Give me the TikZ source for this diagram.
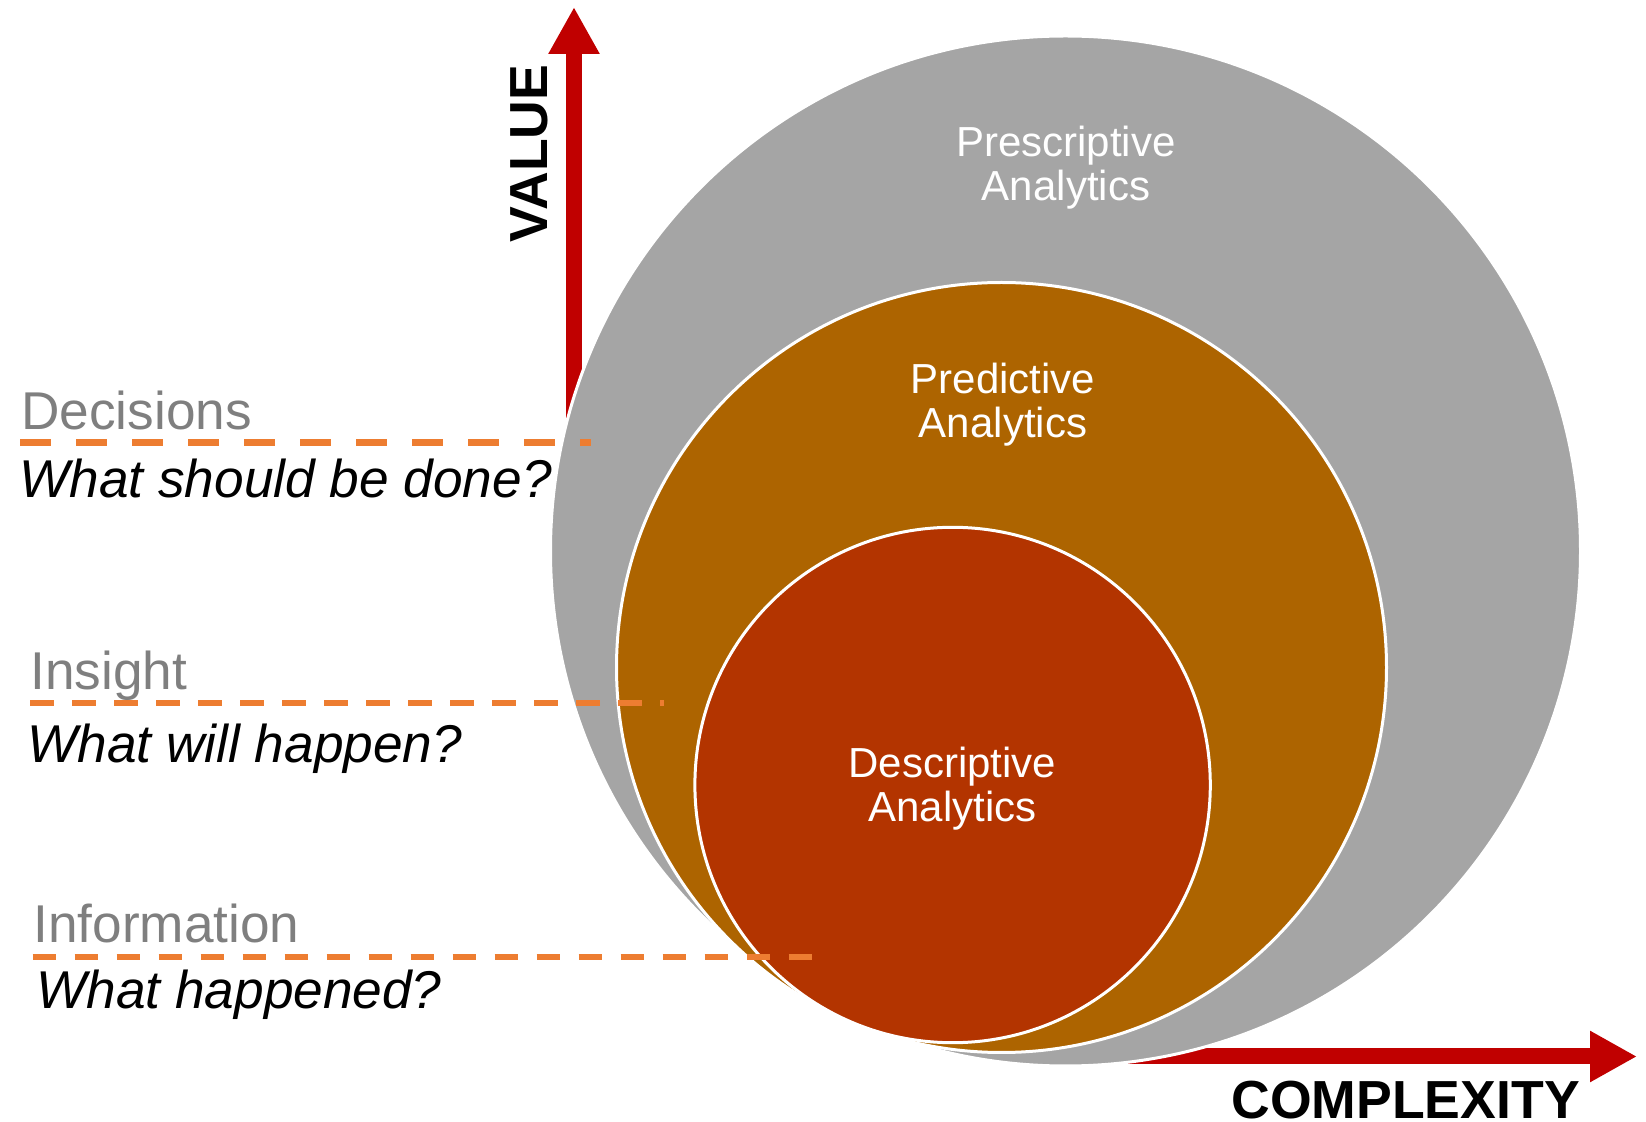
\documentclass[tikz,border=0pt]{standalone}
\usepackage{fontspec}
\setmainfont{Liberation Sans}
\usetikzlibrary{arrows.meta}
\definecolor{ringgray}{HTML}{A5A5A5}
\definecolor{ringbrown}{HTML}{AD6400}
\definecolor{ringred}{HTML}{B33400}
\definecolor{axisred}{HTML}{C00000}
\definecolor{lineorange}{HTML}{ED7D31}
\definecolor{levelgray}{HTML}{7F7F7F}
\begin{document}
\begin{tikzpicture}[x=0.5pt,y=-0.5pt,
  ring/.style={circle, draw=white, line width=1.5pt, inner sep=0pt},
  axisarrow/.style={draw=axisred, line width=8pt, -{Triangle[width=24pt,length=23.5pt]}},
  levelline/.style={draw=lineorange, line width=3pt, dash pattern=on 11.75pt off 9.25pt},
  toplevelline/.style={draw=lineorange, line width=3.5pt, dash pattern=on 15.5pt off 12.5pt},
  leveltext/.style={anchor=base west, inner sep=0pt, text=levelgray, font=\fontsize{26.6}{31}\selectfont},
  questiontext/.style={anchor=base west, inner sep=0pt, text=black, font=\fontsize{26.6}{31}\selectfont\itshape},
  ringlabel/.style={align=center, text=white, inner sep=0pt, font=\fontsize{21}{22}\selectfont},
  axislabel/.style={inner sep=0pt, text=black, font=\fontsize{26.8}{30}\selectfont\bfseries}
]
\useasboundingbox (0,0) rectangle (1646,1122);
% axes (behind the rings)
\coordinate (vstart) at (574,600);
\coordinate (vend) at (574,7);
\coordinate (hstart) at (1060,1056.5);
\coordinate (hend) at (1637,1056.5);
\draw[axisarrow] (vstart) -- (vend);
\draw[axisarrow] (hstart) -- (hend);
% rings
\node[ring, fill=ringgray, minimum size=515pt] (presc) at (1065.5,551) {};
\node[ring, fill=ringbrown, minimum size=385pt] (pred) at (1001.5,667.5) {};
\node[ring, fill=ringred, minimum size=257.7pt] (desc) at (952.6,785) {};
% ring labels
\node[ringlabel] (presclabel) at (1066,168) {Prescriptive\\Analytics};
\node[ringlabel] (predlabel) at (1003,405) {Predictive\\Analytics};
\node[ringlabel] (desclabel) at (952.5,789) {Descriptive\\Analytics};
% level lines
\coordinate (decA) at (20,443);
\coordinate (decB) at (591,443);
\coordinate (insA) at (30,703);
\coordinate (insB) at (664,703);
\coordinate (infA) at (32.5,957);
\coordinate (infB) at (812,957);
\draw[toplevelline] (decA) -- (decB);
\draw[levelline] (insA) -- (insB);
\draw[levelline] (infA) -- (infB);
% level texts
\node[leveltext] (decisions) at (21,430) {Decisions};
\node[questiontext] (qdec) at (19,498) {What should be done?};
\node[leveltext] (insight) at (30,690) {Insight};
\node[questiontext] (qins) at (27,763) {What will happen?};
\node[leveltext] (information) at (33,943) {Information};
\node[questiontext] (qinf) at (36,1008) {What happened?};
% axis labels
\node[axislabel, rotate=90] (value) at (529,153.5) {VALUE};
\node[axislabel, anchor=base west] (complexity) at (1231,1118) {COMPLEXITY};
\end{tikzpicture}
\end{document}
